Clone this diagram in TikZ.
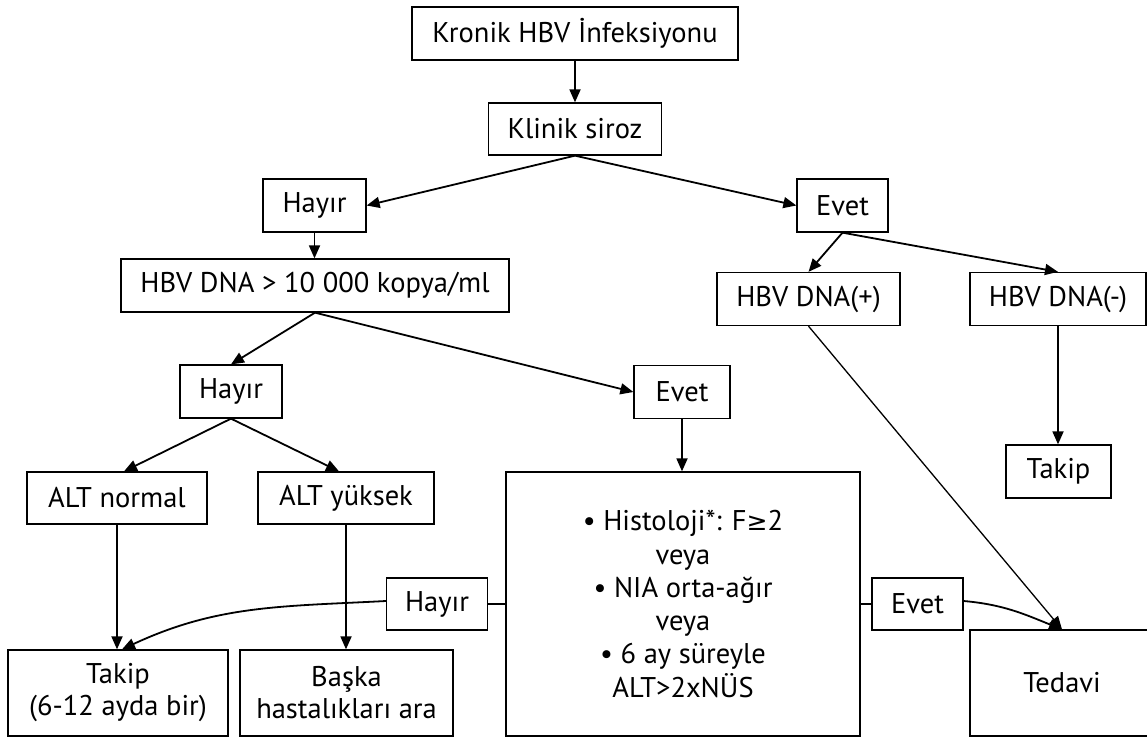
\documentclass[tikz,border=0pt]{standalone}
\usepackage{fontspec}
\setmainfont{PT Sans}
\newfontfamily\symfont{DejaVu Sans}
\usetikzlibrary{arrows.meta}
\tikzset{
  box/.style={draw,line width=1.3pt,inner sep=0pt,align=center,font=\fontsize{28.5}{32}\selectfont},
  link/.style={->,line width=1.8pt},
  plain/.style={line width=1.8pt}
}

\begin{document}
\begin{tikzpicture}[x=1pt,y=-1pt,>={Triangle[length=13pt,width=11pt]}]
  \useasboundingbox (0,0) rectangle (1147,740);
  \node[box,minimum width=326pt,minimum height=53pt] (kronik) at (575,33.5) {Kronik HBV İnfeksiyonu};
  \node[box,minimum width=173pt,minimum height=52pt] (klinik) at (575,129) {Klinik siroz};
  \node[box,minimum width=103pt,minimum height=53pt] (hayir1) at (314.5,205.5) {Hayır};
  \node[box,minimum width=91pt,minimum height=53pt] (evet1) at (842.5,205.5) {Evet};
  \node[box,minimum width=388pt,minimum height=53pt] (hbvdna) at (315,285.5) {HBV DNA > 10 000 kopya/ml};
  \node[box,minimum width=183pt,minimum height=53pt] (hbvpos) at (808.5,299) {HBV DNA(+)};
  \node[box,minimum width=176pt,minimum height=53pt] (hbvneg) at (1058,299) {HBV DNA(-)};
  \node[box,minimum width=102pt,minimum height=53pt] (hayir2) at (231,391.5) {Hayır};
  \node[box,minimum width=96pt,minimum height=53pt] (evet2) at (682,392) {Evet};
  \node[box,minimum width=105pt,minimum height=53pt] (takipR) at (1058.5,471.5) {Takip};
  \node[box,minimum width=180pt,minimum height=52pt] (altn) at (117,498) {ALT normal};
  \node[box,minimum width=176pt,minimum height=52pt] (alty) at (346,498) {ALT yüksek};
  \node[box,minimum width=354pt,minimum height=264pt,font=\fontsize{28.5}{33.3}\selectfont] (kriter) at (683,604)
    {• Histoloji*: F{\symfont\fontsize{25}{33}\selectfont ≥}2\\veya\\• NIA orta-ağır\\veya\\• 6 ay süreyle\\ALT>2xNÜS};
  \node[box,minimum width=101pt,minimum height=52pt] (hayir3) at (437,604) {Hayır};
  \node[box,minimum width=91pt,minimum height=52pt] (evet3) at (917.5,604) {Evet};
  \node[box,minimum width=220pt,minimum height=86pt] (takipL) at (118,693) {Takip\\(6-12 ayda bir)};
  \node[box,minimum width=213pt,minimum height=86pt] (baska) at (346.5,693) {Başka\\hastalıkları ara};
  \node[box,minimum width=184pt,minimum height=106pt] (tedavi) at (1062,683) {Tedavi};

  \draw[link] (kronik.south) -- (kronik.south |- klinik.north);
  \draw[link] (klinik.south) -- (hayir1.east);
  \draw[link] (klinik.south) -- (evet1.west);
  \draw[link] (hayir1.south) -- (hayir1.south |- hbvdna.north);
  \draw[link] (hbvdna.south) -- (hayir2.north);
  \draw[link] (hbvdna.south) -- (evet2.west);
  \draw[link] (evet1.south) -- (hbvpos.north);
  \draw[link] (evet1.south) -- (hbvneg.north);
  \draw[link] (hbvneg.south) -- (hbvneg.south |- takipR.north);
  \draw[link] (evet2.south) -- (evet2.south |- kriter.north);
  \draw[link] (hayir2.south) -- ([xshift=7pt]altn.north);
  \draw[link] (hayir2.south) -- ([xshift=-7pt]alty.north);
  \draw[link] (altn.south) -- (altn.south |- takipL.north);
  \draw[link] (alty.south) -- (alty.south |- baska.north);
  \draw[plain] (hayir3.east) -- (hayir3.east -| kriter.west);
  \draw[plain] (kriter.east |- evet3.west) -- (evet3.west);
  \draw[link] ([yshift=3pt]hayir3.west) to[out=183,in=25] ([xshift=4pt]takipL.north);
  \draw[link,line width=1.3pt] (hbvpos.south) -- (tedavi.north);
  \draw[link] ([yshift=3pt]evet3.east) to[out=-5,in=158] (tedavi.north);
\end{tikzpicture}
\end{document}
